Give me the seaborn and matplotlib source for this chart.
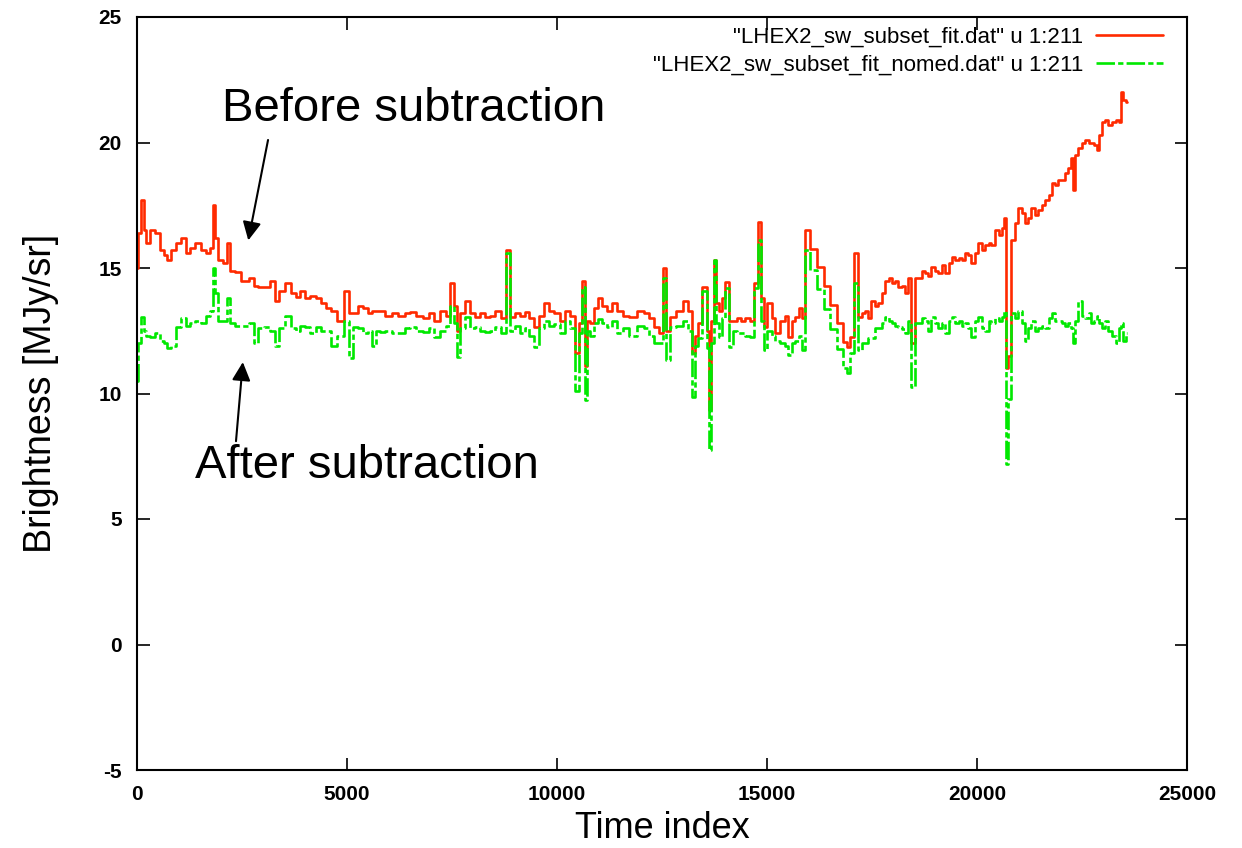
import numpy as np
import pandas as pd
import matplotlib
matplotlib.use("Agg")
import matplotlib.pyplot as plt
import seaborn as sns

# ---------------- data ----------------
time_index = [
    0, 60, 120, 190, 260, 380, 500, 600, 670, 740, 860, 980, 1100, 1210, 1330, 1450,
    1580, 1690, 1790, 1830, 1900, 1980, 2100, 2170, 2260, 2400, 2570, 2740, 2840, 2930,
    3120, 3230, 3330, 3450, 3600, 3720, 3830, 3950, 4070, 4190, 4310, 4430, 4550, 4710,
    4830, 5020, 5080, 5190, 5310, 5430, 5550, 5620, 5750, 5830, 5980, 6140, 6310, 6450,
    6570, 6700, 6900, 7020, 7140, 7290, 7420, 7500, 7580, 7640, 7750, 7860, 7980, 8100,
    8220, 8330, 8470, 8600, 8720, 8830, 8950, 9060, 9170, 9290, 9400, 9520, 9640, 9760,
    9880, 10000, 10120, 10240, 10380, 10480, 10560, 10620, 10690, 10760, 10830, 10940,
    11020, 11140, 11260, 11380, 11500, 11640, 11810, 11980, 12140, 12260, 12380, 12480,
    12570, 12640, 12760, 12930, 13050, 13170, 13240, 13320, 13400, 13520, 13600, 13640,
    13700, 13760, 13820, 13880, 13960, 14050, 14120, 14240, 14330, 14430, 14540, 14640,
    14760, 14830, 14900, 14950, 15070, 15160, 15240, 15380, 15470, 15550, 15630, 15710,
    15790, 15860, 15950, 16110, 16270, 16430, 16580, 16740, 16870, 16930, 17020, 17100,
    17210, 17300, 17380, 17450, 17520, 17600, 17690, 17780, 17860, 17930, 18000, 18090,
    18170, 18250, 18330, 18400, 18480, 18560, 18640, 18720, 18810, 18880, 18950, 19040,
    19120, 19200, 19290, 19360, 19430, 19520, 19600, 19680, 19760, 19830, 19900, 19990,
    20070, 20160, 20240, 20310, 20380, 20480, 20550, 20620, 20680, 20710, 20780, 20860,
    20940, 21020, 21110, 21190, 21260, 21330, 21420, 21500, 21580, 21670, 21740, 21810,
    21900, 21980, 22060, 22140, 22210, 22260, 22290, 22370, 22450, 22530, 22620, 22690,
    22760, 22820, 22880, 22950, 23000, 23090, 23170, 23260, 23340, 23400, 23450, 23520,
    23580,
]

before_subtraction = [
    15.0, 16.4, 17.7, 16.5, 16.0, 16.5, 16.4, 15.7, 15.5, 15.3, 15.7, 16.0, 16.2, 15.6, 15.8, 16.0,
    15.7, 15.6, 15.8, 17.5, 16.2, 15.3, 15.2, 16.0, 14.9, 14.85, 14.5, 14.6, 14.3, 14.25,
    14.25, 14.5, 13.7, 14.1, 14.4, 14.0, 13.85, 14.1, 13.8, 13.9, 13.8, 13.6, 13.4, 13.3,
    12.9, 14.1, 13.2, 13.2, 13.5, 13.4, 13.2, 13.3, 13.3, 13.3, 13.1, 13.2, 13.1, 13.2,
    13.25, 13.1, 13.0, 13.2, 12.9, 13.3, 13.1, 14.4, 13.5, 12.5, 13.2, 13.7, 13.2, 13.05,
    13.2, 13.05, 13.1, 13.3, 13.0, 15.7, 13.05, 13.2, 13.1, 13.25, 13.0, 12.65, 13.1, 13.6,
    13.3, 13.2, 12.9, 13.3, 13.1, 11.6, 12.8, 14.5, 11.1, 12.9, 12.8, 13.4,
    13.8, 13.5, 13.3, 13.6, 13.3, 13.1, 13.05, 13.3, 13.2, 13.0, 12.65, 12.4,
    15.0, 12.5, 13.05, 13.3, 13.7, 13.3, 11.6, 12.3, 12.8, 14.25, 12.5, 9.35,
    12.9, 15.3, 13.6, 13.3, 13.8, 14.45, 12.9, 12.9, 13.0, 12.9, 13.0, 12.9,
    14.4, 16.85, 13.8, 12.65, 13.6, 13.0, 12.4, 12.9, 13.1, 12.25, 12.9, 13.05,
    13.4, 13.0, 16.5, 15.76, 15.04, 14.28, 13.53, 12.8, 12.05, 11.85, 12.25, 15.6,
    13.05, 13.2, 13.3, 13.0, 13.7, 13.5, 13.6, 14.0, 14.5, 14.6, 14.4, 14.5,
    14.25, 14.3, 14.0, 14.6, 12.0, 14.6, 14.6, 14.9, 14.8, 14.7, 15.05, 14.9,
    14.8, 15.1, 14.8, 15.2, 15.45, 15.3, 15.4, 15.3, 15.6, 15.5, 15.2, 15.6,
    16.0, 15.7, 15.9, 16.0, 15.9, 16.5, 16.3, 16.6, 17.0, 11.0, 11.5, 16.1,
    16.8, 17.4, 17.2, 16.8, 17.0, 17.4, 17.1, 17.3, 17.5, 17.7, 17.9, 18.4,
    18.3, 18.5, 18.5, 18.8, 19.0, 19.4, 18.1, 19.5, 19.8, 20.0, 20.1, 20.0,
    20.0, 19.9, 19.7, 20.3, 20.8, 20.9, 20.7, 20.8, 20.9, 20.8, 22.0, 21.7,
    21.6,
]

after_subtraction = [
    10.5, 12.0, 13.05, 12.5, 12.3, 12.25, 12.4, 12.1, 12.0, 11.8, 11.9, 12.65, 13.0, 12.7, 12.8, 12.9,
    12.8, 13.1, 13.3, 15.0, 14.0, 12.9, 12.9, 13.8, 12.8, 12.7, 12.7, 12.8, 12.0, 12.6,
    12.65, 12.5, 11.9, 12.6, 13.1, 12.6, 12.5, 12.7, 12.65, 12.4, 12.65, 12.5, 12.5, 11.9,
    12.3, 12.9, 11.4, 12.65, 12.6, 12.4, 12.5, 11.9, 12.5, 12.45, 12.5, 12.4, 12.4, 12.6,
    12.65, 12.5, 12.45, 12.6, 12.25, 12.5, 12.7, 13.5, 12.8, 11.45, 12.6, 13.05, 12.6, 12.65,
    12.5, 12.45, 12.5, 12.65, 12.4, 15.6, 12.5, 12.7, 12.4, 12.6, 12.3, 11.85, 12.6, 12.9,
    12.7, 12.75, 12.4, 12.9, 12.6, 10.1, 12.4, 14.25, 9.75, 12.5, 12.3, 12.8,
    12.95, 12.8, 12.65, 12.9, 12.4, 12.6, 12.3, 12.7, 12.6, 12.3, 12.0, 12.0,
    14.6, 11.35, 12.65, 12.7, 12.9, 12.5, 9.85, 11.9, 12.2, 14.1, 11.8, 7.75,
    12.0, 15.3, 12.8, 12.25, 13.0, 14.2, 11.85, 12.5, 12.4, 12.4, 12.3, 12.25,
    14.2, 16.1, 12.9, 11.75, 12.5, 12.3, 12.1, 12.0, 11.9, 11.55, 12.0, 12.1,
    12.3, 11.75, 15.7, 14.92, 14.16, 13.37, 12.57, 11.77, 11.02, 10.8, 11.6, 14.4,
    11.75, 12.0, 12.0, 12.2, 12.2, 12.6, 12.6, 12.8, 13.05, 12.9, 12.8, 12.7,
    12.65, 12.55, 12.4, 12.9, 10.25, 12.8, 12.8, 13.0, 12.9, 12.5, 13.05, 12.8,
    12.6, 12.8, 12.4, 12.9, 13.05, 12.8, 12.9, 12.7, 12.8, 12.6, 12.25, 12.9,
    13.05, 12.6, 12.5, 12.9, 12.8, 13.0, 12.9, 13.05, 13.3, 7.2, 9.8, 13.2,
    13.0, 13.3, 12.8, 12.1, 12.6, 12.9, 12.5, 12.6, 12.7, 12.6, 13.0, 13.2,
    12.9, 12.9, 12.8, 12.7, 12.8, 12.6, 12.0, 12.9, 13.7, 13.1, 13.0, 13.2,
    12.8, 12.9, 13.1, 12.8, 12.6, 12.9, 12.5, 12.3, 12.0, 12.6, 12.8, 12.1,
    12.4,
]

legend_labels = ['"LHEX2_sw_subset_fit.dat" u 1:211',
                 '"LHEX2_sw_subset_fit_nomed.dat" u 1:211']
x_ticks = [0, 5000, 10000, 15000, 20000, 25000]
y_ticks = [-5, 0, 5, 10, 15, 20, 25]

# ---------------- style ----------------
sns.set_style("ticks")
plt.rcParams["font.family"] = ["Liberation Sans", "DejaVu Sans"]
plt.rcParams["text.color"] = "black"
plt.rcParams["axes.labelcolor"] = "black"

RED = "#ff2a00"
GREEN = "#00e800"

fig = plt.figure(figsize=(12.42, 8.48), dpi=100)
ax = fig.add_axes([137 / 1242, 1 - 770 / 848, 1050 / 1242, 753 / 848])

df_before = pd.DataFrame({"t": time_index, "b": before_subtraction})
df_after = pd.DataFrame({"t": time_index, "b": after_subtraction})

sns.lineplot(data=df_before, x="t", y="b", ax=ax, color=RED, lw=1.9,
             drawstyle="steps-mid", errorbar=None, label=legend_labels[0])
sns.lineplot(data=df_after, x="t", y="b", ax=ax, color=GREEN, lw=1.9,
             drawstyle="steps-mid", errorbar=None, dashes=(7, 1.2, 2, 1.2),
             label=legend_labels[1])

ax.set_xlim(0, 25000)
ax.set_ylim(-5, 25)
ax.set_xticks(x_ticks)
ax.set_yticks(y_ticks)
ax.set_xticklabels([str(v) for v in x_ticks], fontweight="bold")
ax.set_yticklabels([str(v) for v in y_ticks], fontweight="bold")
ax.tick_params(direction="in", length=9, width=1.2, top=True, right=True,
               labelsize=15, pad=11, colors="black")
for s in ax.spines.values():
    s.set_visible(True)
    s.set_linewidth(1.5)
    s.set_color("black")

ax.set_xlabel("Time index", fontsize=26, labelpad=5)
ax.set_ylabel("Brightness [MJy/sr]", fontsize=27, labelpad=28)

leg = ax.legend(loc="upper right", bbox_to_anchor=(1 - 14 / 1050, 1.0),
                frameon=False, markerfirst=False, fontsize=16,
                handlelength=3.0, handletextpad=0.6, borderaxespad=0.0,
                borderpad=0.45, labelspacing=0.3)

# annotations
ax.text(2024, 20.85, "Before subtraction", fontsize=34, va="baseline", ha="left")
ax.text(1381, 6.65, "After subtraction", fontsize=34, va="baseline", ha="left")
ax.annotate("", xy=(2650, 16.1), xytext=(3120, 20.1),
            arrowprops=dict(arrowstyle="-|>", color="black", lw=1.5,
                            mutation_scale=28, shrinkA=0, shrinkB=0))
ax.annotate("", xy=(2520, 11.25), xytext=(2357, 8.1),
            arrowprops=dict(arrowstyle="-|>", color="black", lw=1.5,
                            mutation_scale=28, shrinkA=0, shrinkB=0))

fig.savefig("out.png", dpi=100)
